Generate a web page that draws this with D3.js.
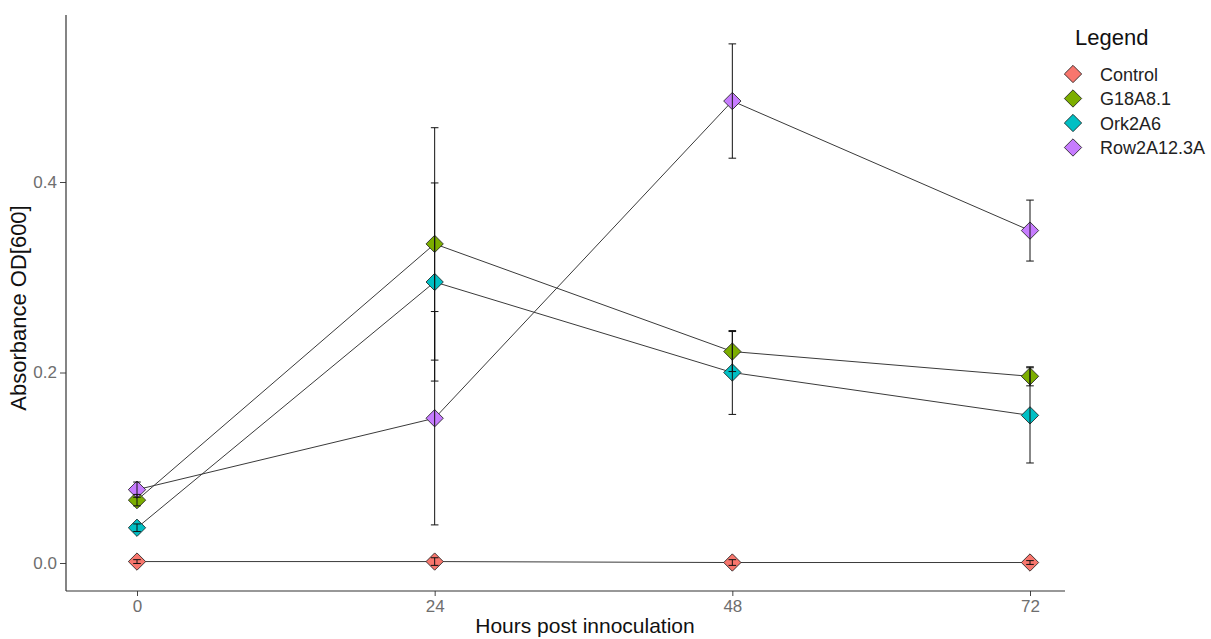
<!DOCTYPE html>
<html>
<head>
<meta charset="utf-8">
<script src="https://cdn.jsdelivr.net/npm/d3@7"></script>
<style>
  body { margin: 0; background: #fff; }
  svg { font-family: "Liberation Sans", Arial, sans-serif; }
</style>
</head>
<body>
<div id="view"></div>
<script>
// data
const hours = [0, 24, 48, 72];
const strains = ["Control", "G18A8.1", "Ork2A6", "Row2A12.3A"];
const strainColors = ["#F8766D", "#7CAE00", "#00BFC4", "#C77CFF"];
const yTicks = [0.0, 0.2, 0.4];

const controlMean = [0.0015, 0.0015, 0.0005, 0.0005];
const controlSe   = [0.002, 0.004, 0.003, 0.002];
const g18Mean = [0.066, 0.335, 0.222, 0.196];
const g18Se   = [0.006, 0.122, 0.021, 0.010];
const orkMean = [0.037, 0.295, 0.200, 0.155];
const orkSe   = [0.004, 0.104, 0.044, 0.050];
const rowMean = [0.077, 0.152, 0.485, 0.349];
const rowSe   = [0.008, 0.112, 0.060, 0.032];

const means = [controlMean, g18Mean, orkMean, rowMean];
const ses = [controlSe, g18Se, orkSe, rowSe];

const width = 1211, height = 639;
const panel = { left: 66, right: 1065, top: 15, bottom: 591 };

const svg = d3.select("#view").append("svg")
  .attr("width", width)
  .attr("height", height);

const x = d3.scaleLinear().domain([0, 72]).range([137, 1030]);
const y = d3.scaleLinear().domain([0, 0.4]).range([563, 182]);

const series = strains.map((s, i) => ({
  name: s,
  color: strainColors[i],
  points: hours.map((h, j) => ({ h: h, m: means[i][j], se: ses[i][j] }))
}));

// connecting lines
const line = d3.line().x(d => x(d.h)).y(d => y(d.m));
svg.append("g").selectAll("path")
  .data(series)
  .enter().append("path")
  .attr("d", d => line(d.points))
  .attr("fill", "none")
  .attr("stroke", "#3a3a3a")
  .attr("stroke-width", 1);

// diamonds
const diamond = d3.symbol().type(d3.symbolSquare).size(150);
series.forEach(s => {
  svg.append("g").selectAll("path")
    .data(s.points)
    .enter().append("path")
    .attr("d", diamond)
    .attr("transform", d => `translate(${x(d.h)},${y(d.m)}) rotate(45)`)
    .attr("fill", s.color)
    .attr("stroke", "#222")
    .attr("stroke-width", 0.8);
});

// error bars
const cap = 3.8;
series.forEach(s => {
  const g = svg.append("g").attr("stroke", "#111").attr("stroke-width", 1);
  s.points.forEach(d => {
    const lo = y(d.m - d.se), hi = y(d.m + d.se), cx = x(d.h);
    g.append("line").attr("x1", cx).attr("x2", cx).attr("y1", lo).attr("y2", hi);
    g.append("line").attr("x1", cx - cap).attr("x2", cx + cap).attr("y1", lo).attr("y2", lo);
    g.append("line").attr("x1", cx - cap).attr("x2", cx + cap).attr("y1", hi).attr("y2", hi);
  });
});

// axes
const xAxis = d3.axisBottom(x).tickValues(hours).tickSize(5).tickPadding(4);
const gx = svg.append("g")
  .attr("transform", `translate(0, ${panel.bottom})`)
  .call(xAxis);
gx.select(".domain").remove();

const yAxis = d3.axisLeft(y).tickValues(yTicks).tickSize(6).tickPadding(3)
  .tickFormat(d3.format(".1f"));
const gy = svg.append("g")
  .attr("transform", `translate(${panel.left}, 0)`)
  .call(yAxis);
gy.select(".domain").remove();

svg.selectAll(".tick line").attr("stroke", "#444");
svg.selectAll(".tick text")
  .attr("fill", "#6e6e6e")
  .style("font-size", "17px")
  .style("font-family", "'Liberation Sans', Arial, sans-serif");

svg.append("line")
  .attr("x1", panel.left).attr("x2", panel.left)
  .attr("y1", panel.top).attr("y2", panel.bottom)
  .attr("stroke", "#333").attr("stroke-width", 1.2);
svg.append("line")
  .attr("x1", panel.left).attr("x2", panel.right)
  .attr("y1", panel.bottom).attr("y2", panel.bottom)
  .attr("stroke", "#333").attr("stroke-width", 1.2);

// axis titles
svg.append("text")
  .attr("x", 585)
  .attr("y", 633)
  .attr("text-anchor", "middle")
  .style("font-size", "21px")
  .attr("fill", "#111")
  .text("Hours post innoculation");

svg.append("text")
  .attr("transform", "translate(26, 308) rotate(-90)")
  .attr("text-anchor", "middle")
  .style("font-size", "22px")
  .attr("fill", "#111")
  .text("Absorbance OD[600]");

// legend
const legend = svg.append("g");
legend.append("text")
  .attr("x", 1075).attr("y", 45)
  .style("font-size", "22px")
  .attr("fill", "#111")
  .text("Legend");

const rows = legend.selectAll("g.row")
  .data(series)
  .enter().append("g")
  .attr("class", "row")
  .attr("transform", (d, i) => `translate(1073, ${74 + i * 24.5})`);
rows.append("path")
  .attr("d", diamond)
  .attr("transform", "rotate(45)")
  .attr("fill", d => d.color)
  .attr("stroke", "#222")
  .attr("stroke-width", 0.8);
rows.append("text")
  .attr("x", 27).attr("y", 6.5)
  .style("font-size", "18px")
  .attr("fill", "#222")
  .text(d => d.name);
</script>
</body>
</html>
